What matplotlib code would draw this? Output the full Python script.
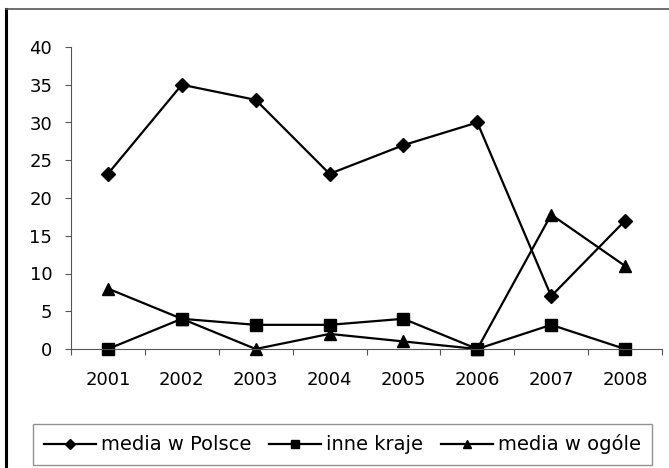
import matplotlib.pyplot as plt
from matplotlib.lines import Line2D

plt.rcParams['font.family'] = ['DejaVu Sans']

years = ['2001', '2002', '2003', '2004', '2005', '2006', '2007', '2008']
media_polska = [23.2, 35, 33, 23.2, 27, 30, 7, 17]
inne_kraje = [0, 4, 3.2, 3.2, 4, 0, 3.2, 0]
media_ogole = [8, 4, 0, 2, 1, 0, 17.8, 11]

W, H = 669, 468
fig = plt.figure(figsize=(W / 100, H / 100), dpi=100)
ax = fig.add_axes([71 / W, 1 - 349 / H, (662 - 71) / W, (349 - 47) / H])

x = range(len(years))
ax.plot(x, media_polska, color='black', lw=1.6, marker='D', ms=7, label='media w Polsce', clip_on=False)
ax.plot(x, inne_kraje, color='black', lw=1.6, marker='s', ms=8, label='inne kraje', clip_on=False)
ax.plot(x, media_ogole, color='black', lw=1.6, marker='^', ms=8.5, label='media w ogóle', clip_on=False)

ax.set_xlim(-0.5, 7.5)
ax.set_ylim(0, 40)
ax.set_yticks(range(0, 41, 5))
ax.set_xticks(list(x))
ax.set_xticklabels(years)
ax.set_xticks([i - 0.5 for i in range(9)], minor=True)
ax.tick_params(axis='x', which='major', length=0, pad=16, labelsize=13)
ax.tick_params(axis='x', which='minor', length=4.5, width=0.8, direction='out', color='#555555')
ax.tick_params(axis='y', length=4.5, width=0.8, direction='out', color='#555555', pad=9, labelsize=13)

for s in ['top', 'right']:
    ax.spines[s].set_visible(False)
for s in ['left', 'bottom']:
    ax.spines[s].set_color('#555555')
    ax.spines[s].set_linewidth(0.8)

leg = fig.legend(loc='lower left', bbox_to_anchor=(33 / W, 3 / H), borderaxespad=0, ncol=3, fontsize=14,
                 frameon=True, fancybox=False, edgecolor='#777777', markerscale=0.7,
                 handlelength=2.7, handletextpad=0.25, columnspacing=0.9, borderpad=0.55)
leg.get_frame().set_linewidth(1.0)

# left and top edge of the outer frame
fig.add_artist(Line2D([6 / W, 6 / W], [0, 1 - 9 / H], transform=fig.transFigure, color='black', lw=2.2))
fig.add_artist(Line2D([6 / W, 1], [1 - 9 / H, 1 - 9 / H], transform=fig.transFigure, color='#555555', lw=1.2))

fig.savefig('out.png', dpi=100)
